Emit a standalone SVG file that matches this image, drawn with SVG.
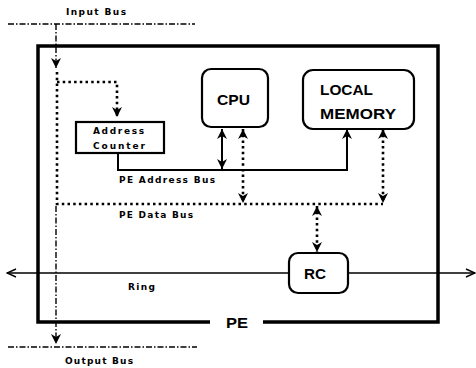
<svg xmlns="http://www.w3.org/2000/svg" width="476" height="368" viewBox="0 0 476 368">
<style>
.box{fill:#fff;stroke:#000;stroke-width:2.2}
.lbl{font-family:"DejaVu Sans","Liberation Sans",sans-serif;font-weight:bold;font-size:9px;fill:#000}
.big{font-family:"Liberation Sans","DejaVu Sans",sans-serif;font-weight:bold;font-size:15px;fill:#000}
.dd{fill:none;stroke:#000;stroke-width:1.4;stroke-dasharray:6 2 1.5 2}
.dot{fill:none;stroke:#000;stroke-width:2.6;stroke-dasharray:2.5 3.2}
.sol{fill:none;stroke:#000;stroke-width:2}
.ring{fill:none;stroke:#000;stroke-width:1.5}
</style>
<defs>
<marker id="ah" markerUnits="userSpaceOnUse" markerWidth="10" markerHeight="10" refX="10" refY="5" orient="auto-start-reverse" viewBox="0 0 10 10">
<path d="M0,0 L10,5 L0,10 L3,5 z" fill="#000"/>
</marker>
<marker id="oa" markerUnits="userSpaceOnUse" markerWidth="11" markerHeight="10" refX="10" refY="5" orient="auto-start-reverse" viewBox="0 0 11 10">
<path d="M1,1 L10,5 L1,9" fill="none" stroke="#000" stroke-width="1.4"/>
</marker>
</defs>

<g id="pe">
<path d="M210,322 L38,322 L38,46 L438,46 L438,322 L263,322" fill="none" stroke="#000" stroke-width="3.5"/>
<text class="big" x="226" y="328" font-size="16" textLength="22" lengthAdjust="spacingAndGlyphs">PE</text>
</g>

<g id="connectors">
<line class="dd" x1="8" y1="24" x2="195" y2="24"/>
<line class="dd" x1="8" y1="347" x2="197" y2="347"/>
<line class="dd" x1="56" y1="24" x2="56" y2="68" marker-end="url(#ah)"/>
<path class="dot" d="M57,72 L57,204 L383,204"/>
<path class="dot" d="M57,82 L117,82 L117,117" marker-end="url(#ah)"/>
<line class="dd" x1="56" y1="206" x2="56" y2="344" marker-end="url(#ah)"/>
<line class="sol" x1="222" y1="129" x2="222" y2="169" marker-start="url(#ah)" marker-end="url(#ah)"/>
<path class="sol" d="M118,153 L118,170 L347,170 L347,129" marker-end="url(#ah)"/>
<line class="dot" x1="243" y1="129" x2="243" y2="203" marker-start="url(#ah)" marker-end="url(#ah)"/>
<line class="dot" x1="383" y1="129" x2="383" y2="203" marker-start="url(#ah)" marker-end="url(#ah)"/>
<line class="dot" x1="317" y1="206" x2="317" y2="252" marker-start="url(#ah)" marker-end="url(#ah)"/>
<line class="ring" x1="7" y1="273" x2="289" y2="273" marker-start="url(#oa)"/>
<line class="ring" x1="348" y1="273" x2="475" y2="273" marker-end="url(#oa)"/>
</g>

<g id="labels">
<text class="lbl" x="66" y="15" textLength="60" lengthAdjust="spacing">Input Bus</text>
<text class="lbl" x="65" y="364" textLength="68" lengthAdjust="spacing">Output Bus</text>
<text class="lbl" x="119" y="183" textLength="96" lengthAdjust="spacing">PE Address Bus</text>
<text class="lbl" x="119" y="218" textLength="74" lengthAdjust="spacing">PE Data Bus</text>
<text class="lbl" x="128" y="290" textLength="27" lengthAdjust="spacing">Ring</text>
</g>

<g id="address-counter">
<rect class="box" x="76" y="122" width="88" height="31"/>
<text class="lbl" x="93" y="134" textLength="51" lengthAdjust="spacing">Address</text>
<text class="lbl" x="93" y="149" textLength="52" lengthAdjust="spacing">Counter</text>
</g>

<g id="cpu">
<rect class="box" x="202" y="69" width="66" height="58" rx="9"/>
<text class="big" x="217" y="105" font-size="16" textLength="33" lengthAdjust="spacingAndGlyphs">CPU</text>
</g>

<g id="local-memory">
<rect class="box" x="303" y="70" width="111" height="59" rx="10"/>
<text class="big" x="320" y="95" textLength="53" lengthAdjust="spacingAndGlyphs">LOCAL</text>
<text class="big" x="320" y="119" textLength="76" lengthAdjust="spacingAndGlyphs">MEMORY</text>
</g>

<g id="rc">
<rect class="box" x="289" y="253" width="59" height="40" rx="9"/>
<text class="big" x="304" y="279" textLength="22" lengthAdjust="spacingAndGlyphs">RC</text>
</g>
</svg>
